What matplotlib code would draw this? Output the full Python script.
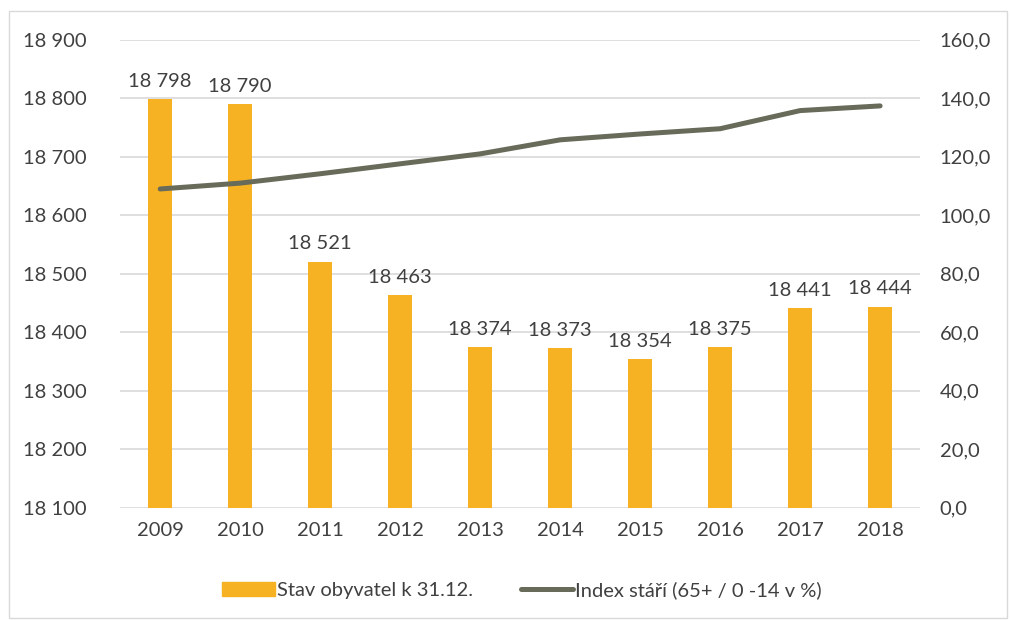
import matplotlib.pyplot as plt
import matplotlib.patches as mpatches
from matplotlib.lines import Line2D

plt.rcParams['font.family'] = ['Lato', 'DejaVu Sans']

# data
years = ["2009", "2010", "2011", "2012", "2013", "2014", "2015", "2016", "2017", "2018"]
population = [18798, 18790, 18521, 18463, 18374, 18373, 18354, 18375, 18441, 18444]
age_index = [109.0, 111.0, 114.2, 117.6, 121.0, 125.8, 127.8, 129.6, 135.8, 137.4]

bar_color = "#F7B224"
line_color = "#686B59"
text_color = "#404040"
grid_color = "#D9D9D9"
fs = 14.5

fig = plt.figure(figsize=(10.1, 6.2), dpi=100)
fig.patches.append(mpatches.Rectangle((0.009, 0.003), 0.988, 0.98, transform=fig.transFigure,
                                      fill=False, edgecolor="#D9D9D9", lw=1))

ax = fig.add_axes([0.119, 0.181, 0.792, 0.7548])
x = range(len(years))
ax.bar(x, [p - 18100 for p in population], bottom=18100, width=0.3, color=bar_color, zorder=2)
ax.set_ylim(18100, 18900)
ax.set_xlim(-0.5, len(years) - 0.5)
ax.set_yticks(range(18100, 18901, 100))
ax.set_yticklabels([f"{v:,}".replace(",", " ") for v in range(18100, 18901, 100)])
ax.set_xticks(list(x))
ax.set_xticklabels(years)
ax.grid(axis="y", color=grid_color, lw=1.2, zorder=0)
for s in ax.spines.values():
    s.set_visible(False)
ax.tick_params(length=0, labelsize=fs, colors=text_color)
ax.tick_params(axis="y", pad=24)
ax.tick_params(axis="x", pad=10)

for i, p in enumerate(population):
    ax.text(i, p + 16, f"{p:,}".replace(",", " "), ha="center", va="bottom",
            fontsize=fs, color=text_color)

ax2 = ax.twinx()
ax2.plot(list(x), age_index, color=line_color, lw=3.6, solid_capstyle="round", zorder=3)
ax2.set_ylim(0, 160)
ax2.set_yticks(range(0, 161, 20))
ax2.set_yticklabels([f"{v},0" for v in range(0, 161, 20)])
for s in ax2.spines.values():
    s.set_visible(False)
ax2.tick_params(length=0, labelsize=fs, colors=text_color, pad=14)

handles = [mpatches.Patch(color=bar_color, label="Stav obyvatel k 31.12."),
           Line2D([], [], color=line_color, lw=3.6, solid_capstyle="round",
                  label="Index stáří (65+ / 0 -14 v %)")]
leg = fig.legend(handles=handles, loc="center", bbox_to_anchor=(0.517, 0.048), ncol=2,
                 frameon=False, fontsize=fs, handlelength=2.6, handleheight=0.7,
                 columnspacing=2.4, handletextpad=0.1)
for t in leg.get_texts():
    t.set_color(text_color)

fig.savefig("out.png", dpi=100)
